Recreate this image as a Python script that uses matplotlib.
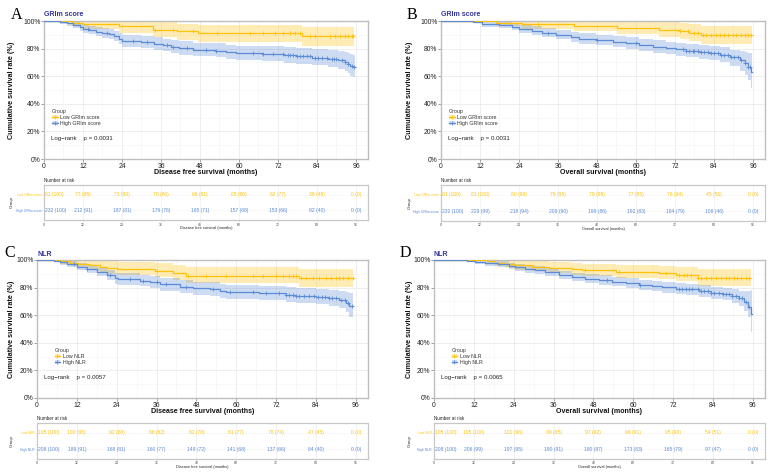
import matplotlib
matplotlib.use('Agg')
import matplotlib.pyplot as plt
import numpy as np
from matplotlib.patches import Patch
from matplotlib.lines import Line2D

plt.rcParams['font.family'] = ['Liberation Sans', 'DejaVu Sans']

W, H = 770, 474
YELLOW = '#FFC20A'
BLUE = '#5B8BD4'
TITLE_C = '#34349A'

time_breaks = [0, 12, 24, 36, 48, 60, 72, 84, 96]
y_breaks = [0, 0.2, 0.4, 0.6, 0.8, 1.0]
y_labels = ['0%', '20%', '40%', '60%', '80%', '100%']

# ---------------- Panel A : DFS, GRIm score ----------------
A_low_t = [0, 8.5, 12, 23, 33.5, 40.8, 47.5, 79.3]
A_low_s = [1.0, 0.988, 0.975, 0.963, 0.938, 0.925, 0.911, 0.888]
A_low_lo = [1.0, 0.965, 0.945, 0.915, 0.885, 0.865, 0.845, 0.82]
A_low_hi = [1.0, 1.0, 1.0, 1.0, 0.99, 0.98, 0.97, 0.96]
A_low_cens = [34.2, 39.8, 45.9, 53.1, 63.4, 67.5, 71.1, 73.6, 75.7, 77.2, 78.8,
              81.8, 83.4, 88.0, 89.5, 91.1, 92.6, 93.6, 94.7, 95.2]
A_high_t = [0, 5, 7, 9, 11, 12, 14, 16, 18, 20, 21.5, 23, 24, 30, 34, 36.5, 39, 41.5,
            46, 53, 56, 59, 67, 74, 77.5, 82.5, 87.5, 90.5, 92.5, 93.5, 94.3, 95]
A_high_s = [1.0, .991, .983, .97, .955, .945, .935, .922, .913, .905, .89, .87, .853,
            .845, .836, .826, .815, .802, .792, .785, .775, .765, .76, .752, .743,
            .735, .725, .715, .705, .69, .677, .67]
A_high_lo = [1.0, .979, .967, .948, .929, .916, .904, .889, .878, .869, .852, .83, .811,
             .802, .792, .781, .769, .755, .744, .736, .725, .714, .708, .699, .689,
             .679, .667, .654, .641, .622, .605, .596]
A_high_hi = [1.0, 1.0, .999, .992, .982, .975, .967, .956, .949, .942, .929, .912, .897,
             .89, .882, .873, .864, .853, .844, .838, .829, .82, .816, .809, .801,
             .795, .787, .78, .773, .766, .76, .757]
A_high_cens = [13.5, 19.3, 27.5, 31.6, 37.8, 39.8, 44, 50, 53, 64.3, 67.5, 70.5, 73.6,
               75.2, 75.7, 76.7, 77.8, 78.8, 79.8, 80.8, 81.8, 83.4, 84.4, 85.4, 87,
               88.5, 89.2, 90, 91.6, 92.6, 93.6, 94.7, 95.4]
A_low_risk = ['81 (100)', '77 (95)', '73 (90)', '70 (86)', '66 (81)', '65 (80)',
              '62 (77)', '39 (48)', '0 (0)']
A_high_risk = ['232 (100)', '212 (91)', '187 (81)', '176 (76)', '165 (71)', '157 (68)',
               '153 (66)', '92 (40)', '0 (0)']

# ---------------- Panel B : OS, GRIm score ----------------
B_low_t = [0, 16.8, 25, 41, 54.3, 67.2, 73.4, 76.4, 80]
B_low_s = [1.0, .988, .975, .963, .95, .938, .925, .912, .898]
B_low_lo = [1.0, .965, .942, .925, .905, .885, .87, .855, .835]
B_low_hi = [1.0, 1.0, 1.0, 1.0, .995, .99, .983, .975, .965]
B_low_cens = [30, 73.4, 75.9, 78, 79, 80.5, 81.6, 83.1, 84.7, 85.7, 87.2, 88.3, 89.8,
              90.8, 92.4, 93.4, 94.4, 95.5]
B_high_t = [0, 10, 12.6, 17.8, 21.9, 24, 28, 31.2, 35.3, 39.9, 42.5, 47.6, 52.8, 56.9,
            61, 65.1, 69.2, 72.3, 75.4, 79.5, 82.6, 85.7, 88.8, 91.9, 93.4, 94.4, 95.3]
B_high_s = [1.0, .993, .978, .969, .959, .94, .93, .915, .901, .886, .872, .862, .85,
            .838, .824, .814, .804, .795, .785, .775, .766, .754, .737, .717, .698,
            .669, .633]
B_high_lo = [1.0, .982, .959, .947, .934, .912, .9, .883, .867, .85, .834, .823, .81,
             .796, .781, .77, .759, .749, .738, .727, .716, .702, .672, .64, .61,
             .575, .515]
B_high_hi = [1.0, 1.0, .997, .992, .984, .969, .961, .948, .936, .923, .911, .902, .891,
             .881, .868, .859, .851, .843, .834, .826, .818, .808, .79, .78, .775,
             .77, .77]
B_high_cens = [33, 48, 60, 74.4, 75.4, 76.4, 77.4, 78, 79, 80, 81, 82.1, 83.1, 84.1,
               85.1, 86.1, 87.2, 88.2, 89.2, 90.2, 91.3, 92.4, 93.4, 94.4, 95.2]
B_low_risk = ['81 (100)', '81 (100)', '80 (99)', '79 (98)', '79 (98)', '77 (95)',
              '76 (94)', '45 (56)', '0 (0)']
B_high_risk = ['232 (100)', '229 (99)', '218 (94)', '209 (90)', '199 (86)', '192 (83)',
               '184 (79)', '106 (46)', '0 (0)']

# ---------------- Panel C : DFS, NLR ----------------
C_low_t = [0, 7, 10, 12.5, 16, 19, 21, 24, 35.5, 41, 45, 79]
C_low_s = [1.0, .99, .981, .971, .962, .952, .943, .933, .923, .904, .885, .867]
C_low_lo = [1.0, .97, .955, .94, .927, .913, .9, .888, .876, .854, .832, .803]
C_low_hi = [1.0, 1.0, 1.0, 1.0, 1.0, .995, .99, .982, .975, .962, .948, .935]
C_low_cens = [36, 45.5, 51, 57, 65, 68, 72, 74, 76, 77, 78, 79.5, 81, 83, 85, 87,
              88.7, 90, 91, 92.2, 93.7, 95.2]
C_high_t = [0, 5, 7, 9, 12, 15, 18, 21, 23.5, 24.5, 31, 34, 37, 43, 47, 52, 55, 57,
            67, 75, 78, 84, 88, 91, 93, 94]
C_high_s = [1.0, .993, .983, .969, .952, .935, .915, .891, .867, .86, .85, .84, .823,
            .806, .794, .787, .775, .765, .758, .748, .738, .734, .722, .709, .69, .665]
C_high_lo = [1.0, .982, .965, .946, .925, .904, .881, .854, .827, .819, .808, .797,
             .778, .76, .747, .739, .726, .715, .707, .696, .685, .68, .666, .65,
             .625, .585]
C_high_hi = [1.0, 1.0, .998, .992, .98, .967, .951, .931, .909, .903, .894, .885, .87,
             .855, .844, .838, .827, .818, .812, .803, .794, .791, .781, .772, .765,
             .758]
C_high_cens = [11, 15, 22, 28, 32, 36, 39, 45, 53, 58, 65, 69, 73, 75, 76, 77, 78, 79,
               80.5, 82, 83.5, 84.7, 85.7, 86.7, 88, 89, 90, 91.5, 92.7, 93.7, 95]
C_low_risk = ['105 (100)', '100 (95)', '92 (88)', '86 (82)', '82 (78)', '81 (77)',
              '78 (74)', '47 (45)', '0 (0)']
C_high_risk = ['208 (100)', '189 (91)', '168 (81)', '160 (77)', '149 (72)', '141 (68)',
               '137 (66)', '84 (40)', '0 (0)']

# ---------------- Panel D : OS, NLR ----------------
D_low_t = [0, 16, 18.4, 21.5, 24, 29.5, 34.5, 41.6, 44.6, 54.7, 67.8, 72.8, 79.4]
D_low_s = [1.0, .99, .981, .971, .962, .952, .943, .933, .924, .914, .905, .891, .873]
D_low_lo = [1.0, .972, .957, .943, .93, .918, .906, .894, .883, .872, .861, .845, .813]
D_low_hi = [1.0, 1.0, 1.0, 1.0, .995, .99, .984, .977, .97, .963, .957, .946, .935]
D_low_cens = [45.6, 55.7, 69.8, 73.8, 75.3, 76.3, 77.3, 79.4, 80.4, 81.9, 83.4, 84.9,
              86.4, 87.9, 88.9, 90.4, 91.4, 92.4, 93.9, 95]
D_high_t = [0, 9.9, 12.4, 15.4, 19.4, 22.5, 24.5, 27.5, 30.5, 33.5, 37.6, 41.6, 45.6,
            49.6, 53.7, 57.7, 61.7, 65.8, 68.8, 72.8, 75.8, 79.9, 83.4, 86.9, 89.9,
            91.9, 93.5, 94.5, 95.5]
D_high_s = [1.0, .995, .985, .978, .971, .959, .947, .935, .925, .91, .891, .877, .864,
            .855, .843, .831, .818, .811, .801, .792, .787, .777, .763, .753, .739,
            .722, .697, .661, .608]
D_high_lo = [1.0, .985, .97, .96, .951, .937, .923, .909, .897, .881, .86, .845, .831,
             .821, .808, .795, .781, .773, .762, .752, .746, .735, .719, .707, .69,
             .668, .633, .585, .48]
D_high_hi = [1.0, 1.0, .999, .995, .991, .981, .971, .961, .953, .94, .922, .909, .897,
             .889, .878, .867, .855, .849, .84, .832, .828, .819, .807, .799, .788,
             .778, .772, .775, .78]
D_high_cens = [52, 62, 73.8, 74.8, 75.8, 76.8, 77.8, 79.4, 80.4, 81.4, 82.4, 83.4, 84.4,
               85.9, 86.9, 87.9, 88.9, 89.9, 90.9, 91.9, 92.9, 93.9, 94.9]
D_low_risk = ['105 (100)', '105 (100)', '101 (96)', '99 (95)', '97 (92)', '96 (91)',
              '95 (90)', '54 (51)', '0 (0)']
D_high_risk = ['208 (100)', '206 (99)', '197 (95)', '190 (91)', '180 (87)', '173 (83)',
               '165 (79)', '97 (47)', '0 (0)']

panels = [
    dict(letter='A', title='GRIm score', xlabel='Disease free survival (months)',
         labels=['Low GRIm score', 'High GRIm score'], p='p = 0.0031',
         low=(A_low_t, A_low_s, A_low_lo, A_low_hi, A_low_cens, 95.5),
         high=(A_high_t, A_high_s, A_high_lo, A_high_hi, A_high_cens, 95.6),
         risk=(A_low_risk, A_high_risk),
         main=(44, 21, 368, 159), tab=(44, 185, 368, 220), letter_xy=(11, 19), ylab_x=12),
    dict(letter='B', title='GRIm score', xlabel='Overall survival (months)',
         labels=['Low GRIm score', 'High GRIm score'], p='p = 0.0031',
         low=(B_low_t, B_low_s, B_low_lo, B_low_hi, B_low_cens, 95.6),
         high=(B_high_t, B_high_s, B_high_lo, B_high_hi, B_high_cens, 95.6),
         risk=(B_low_risk, B_high_risk),
         main=(441, 21, 765, 159), tab=(441, 185, 765, 221), letter_xy=(407, 19), ylab_x=410),
    dict(letter='C', title='NLR', xlabel='Disease free survival (months)',
         labels=['Low NLR', 'High NLR'], p='p = 0.0057',
         low=(C_low_t, C_low_s, C_low_lo, C_low_hi, C_low_cens, 95.3),
         high=(C_high_t, C_high_s, C_high_lo, C_high_hi, C_high_cens, 95.3),
         risk=(C_low_risk, C_high_risk),
         main=(37, 260, 368, 398), tab=(37, 423, 368, 459), letter_xy=(4, 257), ylab_x=12),
    dict(letter='D', title='NLR', xlabel='Overall survival (months)',
         labels=['Low NLR', 'High NLR'], p='p = 0.0065',
         low=(D_low_t, D_low_s, D_low_lo, D_low_hi, D_low_cens, 95.6),
         high=(D_high_t, D_high_s, D_high_lo, D_high_hi, D_high_cens, 95.8),
         risk=(D_low_risk, D_high_risk),
         main=(434, 260, 765, 398), tab=(434, 423, 765, 459), letter_xy=(400, 257), ylab_x=410),
]

fig = plt.figure(figsize=(W / 100, H / 100), dpi=100)


def rect(box):
    l, t, r, b = box
    return [l / W, 1 - b / H, (r - l) / W, (b - t) / H]


def fx(px):
    return px / W


def fy(py):
    return 1 - py / H


def draw_curve(ax, data, color):
    t, s, lo, hi, cens, tend = data
    tt = np.r_[t, tend]
    ss = np.r_[s, s[-1]]
    ll = np.r_[lo, lo[-1]]
    hh = np.r_[hi, hi[-1]]
    ax.fill_between(tt, ll, hh, step='post', color=color, alpha=0.3, lw=0, zorder=2)
    ax.step(tt, ss, where='post', color=color, lw=0.9, zorder=3)
    cens = np.asarray(cens)
    idx = np.searchsorted(np.asarray(t), cens, side='right') - 1
    ax.plot(cens, np.asarray(s)[idx], ls='none', marker='+', ms=3, mew=0.6,
            color=color, zorder=4)


XMAX = 99.7
SPINE = '#BEBEBE'

for P in panels:
    ax = fig.add_axes(rect(P['main']))
    draw_curve(ax, P['low'], YELLOW)
    draw_curve(ax, P['high'], BLUE)
    ax.set_xlim(0, XMAX)
    ax.set_ylim(0, 1)
    ax.set_xticks(time_breaks)
    ax.set_xticks([6, 18, 30, 42, 54, 66, 78, 90], minor=True)
    ax.set_yticks(y_breaks)
    ax.set_yticklabels(y_labels)
    ax.set_yticks([0.1, 0.3, 0.5, 0.7, 0.9], minor=True)
    ax.grid(which='major', color='#EBEBEB', lw=0.6, zorder=0)
    ax.grid(which='minor', color='#F4F4F4', lw=0.4, zorder=0)
    ax.set_axisbelow(True)
    ax.tick_params(which='major', labelsize=4.9, length=2, width=0.5, color='#777777',
                   pad=0.6, labelcolor='#222222')
    ax.tick_params(which='minor', length=0)
    for sp in ax.spines.values():
        sp.set_color(SPINE)
        sp.set_linewidth(1.0)

    handles = [(Patch(facecolor=YELLOW, alpha=0.3, lw=0),
                Line2D([], [], color=YELLOW, lw=0.9, marker='+', ms=3, mew=0.6)),
               (Patch(facecolor=BLUE, alpha=0.3, lw=0),
                Line2D([], [], color=BLUE, lw=0.9, marker='+', ms=3, mew=0.6))]
    leg = ax.legend(handles, P['labels'], title='Group', loc='center',
                    bbox_to_anchor=(0.1, 0.3), frameon=False, fontsize=3.8,
                    title_fontsize=3.8, handlelength=1.1, handleheight=0.9,
                    labelspacing=0.15, handletextpad=0.5, alignment='left',
                    borderpad=0.2)
    for txt in leg.get_texts():
        txt.set_color('#333333')
    leg.get_title().set_color('#333333')

    ax.text(0.022, 0.152, 'Log\u2212rank    ' + P['p'], transform=ax.transAxes,
            fontsize=4.4, va='center', ha='left', color='#222222')

    l, t, r, b = P['main']
    fig.text(fx(l), fy(t - 6), P['title'], fontsize=5.0, fontweight='bold',
             color=TITLE_C, ha='left', va='center')
    fig.text(fx((l + r) / 2), fy(b + 13.5), P['xlabel'], fontsize=5.1,
             fontweight='bold', ha='center', va='center', color='#111111')
    fig.text(fx(P['ylab_x']), fy((t + b) / 2), 'Cumulative survival rate (%)',
             fontsize=5.2, fontweight='bold', rotation=90, ha='center', va='center',
             color='#111111')
    lx, ly = P['letter_xy']
    fig.text(fx(lx), fy(ly), P['letter'], fontsize=11.5,
             family=['Liberation Serif', 'DejaVu Serif'], ha='left', va='baseline')

    # ---- risk table ----
    rt = fig.add_axes(rect(P['tab']))
    rt.set_xlim(0, XMAX)
    rt.set_ylim(0.4, 2.6)
    low_r, high_r = P['risk']
    for i, tb in enumerate(time_breaks):
        ha = 'left' if i == 0 else 'center'
        xx = tb + (0.3 if i == 0 else 0)
        rt.text(xx, 2, low_r[i], color=YELLOW, fontsize=3.6, ha=ha, va='center')
        rt.text(xx, 1, high_r[i], color=BLUE, fontsize=3.6, ha=ha, va='center')
    rt.set_xticks(time_breaks)
    rt.set_yticks([2, 1])
    rt.set_yticklabels(P['labels'])
    rt.get_yticklabels()[0].set_color(YELLOW)
    rt.get_yticklabels()[1].set_color(BLUE)
    rt.tick_params(axis='y', labelsize=2.4, length=1, width=0.4, color='#999999', pad=0.5)
    rt.tick_params(axis='x', labelsize=2.4, length=1, width=0.4, color='#999999',
                   pad=0.8, labelcolor='#444444')
    rt.grid(axis='x', color='#EEEEEE', lw=0.5)
    rt.grid(axis='y', color='#F4F4F4', lw=0.4)
    rt.set_axisbelow(True)
    for sp in rt.spines.values():
        sp.set_color('#C8C8C8')
        sp.set_linewidth(0.9)
    tl, tt_, tr, tb_ = P['tab']
    fig.text(fx(tl), fy(tt_ - 5), 'Number at risk', fontsize=3.3, ha='left',
             va='center', color='#222222')
    fig.text(fx(P['ylab_x']), fy((tt_ + tb_) / 2), 'Group', fontsize=3.2, rotation=90,
             ha='center', va='center', color='#222222')
    fig.text(fx((tl + tr) / 2), fy(tb_ + 8), P['xlabel'], fontsize=2.8, ha='center',
             va='center', color='#222222')

fig.savefig('out.png', dpi=100)
